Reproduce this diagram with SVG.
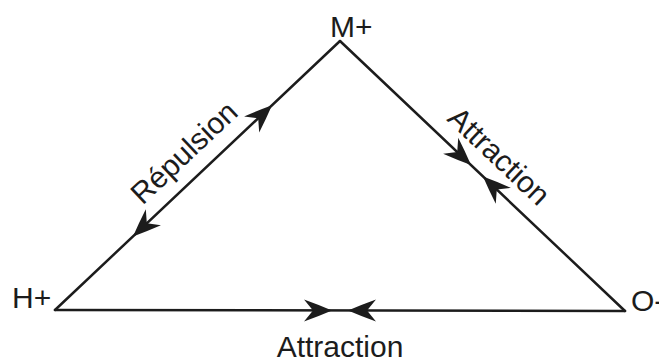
<svg xmlns="http://www.w3.org/2000/svg" xmlns:xlink="http://www.w3.org/1999/xlink" width="659" height="363" viewBox="0 0 659 363">
  <style>
    .edge { fill: none; stroke: #1c1c1c; stroke-width: 2.5; stroke-linecap: round; stroke-linejoin: miter; }
    .lbl { font-family: "Liberation Sans", Arial, sans-serif; font-size: 30px; fill: #1c1c1c; }
    .ah { fill: #1c1c1c; }
  </style>
  <defs>
    <path id="ah" class="ah" d="M0,0 Q-14,-6 -28,-11 L-19,0 L-28,11 Q-14,6 0,0 Z"/>
  </defs>
  <rect width="659" height="363" fill="#ffffff"/>
  <g id="connectors">
    <path class="edge" d="M55,310 L340,41"/>
    <path class="edge" d="M340,41 L625,311"/>
    <path class="edge" d="M55,310 L625,311"/>
    <use xlink:href="#ah" transform="translate(272,105.2) rotate(-43.35)"/>
    <use xlink:href="#ah" transform="translate(133,236.4) rotate(136.65)"/>
    <use xlink:href="#ah" transform="translate(471,165.1) rotate(43.45)"/>
    <use xlink:href="#ah" transform="translate(483,176.5) rotate(223.45)"/>
    <use xlink:href="#ah" transform="translate(332,310.5) rotate(0)"/>
    <use xlink:href="#ah" transform="translate(348,310.5) rotate(180)"/>
    <text class="lbl" text-anchor="middle" transform="translate(191,160) rotate(-43.35)">Répulsion</text>
    <text class="lbl" text-anchor="middle" transform="translate(492,163.5) rotate(43.45)">Attraction</text>
    <text class="lbl" text-anchor="middle" x="340" y="357">Attraction</text>
  </g>
  <g id="node-M">
    <text class="lbl" x="330" y="37">M+</text>
  </g>
  <g id="node-H">
    <text class="lbl" x="12" y="308">H+</text>
  </g>
  <g id="node-O">
    <text class="lbl" x="631" y="311">O-</text>
  </g>
</svg>
